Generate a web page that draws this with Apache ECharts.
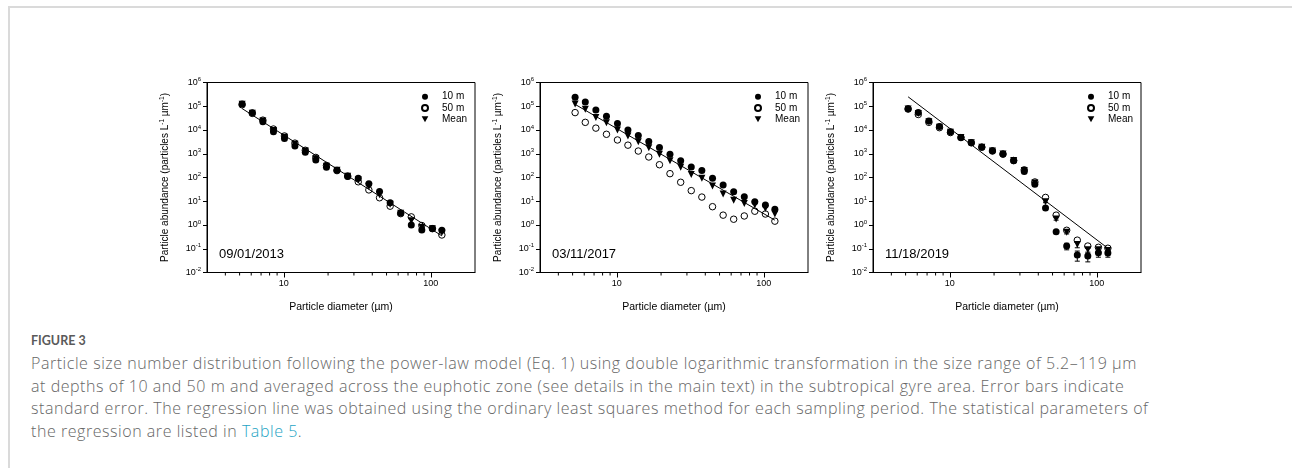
<!DOCTYPE html>
<html>
<head>
<meta charset="utf-8">
<script src="https://cdn.jsdelivr.net/npm/echarts@6/dist/echarts.min.js"></script>
<style>
body { margin: 0; background: #fff; width: 1292px; height: 468px; overflow: hidden; position: relative; }
#frame { position: absolute; left: 8px; top: 6px; right: -4px; bottom: -4px; border-top: 2px solid #dadada; border-left: 2px solid #dadada; }
#chart { position: absolute; left: 0; top: 0; width: 1292px; height: 320px; }
#caption { position: absolute; left: 31px; top: 332px; width: 1250px; }
#caption .fig { font-family: Lato, sans-serif; font-size: 12.5px; font-weight: bold; color: #5a5a5a; line-height: 18px; }
#caption .txt { font-family: "Open Sans", sans-serif; font-weight: 300; margin-top: 2px; font-size: 16px; letter-spacing: 0.55px; line-height: 22.5px; color: #666; white-space: nowrap; }
#caption .lnk { color: #1ea4c4; }
</style>
</head>
<body>
<div id="frame"></div>
<div id="chart"></div>
<div id="caption">
  <div class="fig">FIGURE 3</div>
  <div class="txt">Particle size number distribution following the power-law model (Eq. 1) using double logarithmic transformation in the size range of 5.2–119 µm<br>at depths of 10 and 50 m and averaged across the euphotic zone (see details in the main text) in the subtropical gyre area. Error bars indicate<br>standard error. The regression line was obtained using the ordinary least squares method for each sampling period. The statistical parameters of<br>the regression are listed in <span class="lnk">Table 5</span>.</div>
</div>
<script>
// particle diameter bins (um)
var diameter = [5.2, 6.1, 7.2, 8.5, 10.1, 11.9, 14.0, 16.5, 19.5, 23.0, 27.2, 32.1, 37.9, 44.8, 52.9, 62.4, 73.7, 86.9, 102.6, 119];
var minorTicks = [4, 5, 6, 7, 8, 9, 20, 30, 40, 50, 60, 70, 80, 90];
var dates = ['09/01/2013', '03/11/2017', '11/18/2019'];

// 09/01/2013
var m10_2013 = [1.25e5, 5.3e4, 2.2e4, 8.5e3, 4.4e3, 2.1e3, 1.15e3, 540, 270, 200, 110, 92, 54, 26, 8.7, 3.2, 1.0, 0.62, 0.72, 0.6];
var m50_2013 = [1.15e5, 5.0e4, 2.6e4, 1.1e4, 5.6e3, 2.8e3, 1.4e3, 700, 320, 195, 115, 66, 30, 14, 6.2, 3.0, 2.2, 0.95, 0.7, 0.38];
var mean_2013 = [1.2e5, 5.1e4, 2.4e4, 9.5e3, 5.0e3, 2.5e3, 1.3e3, 620, 300, 200, 112, 78, 42, 19, 7.5, 3.1, 1.5, 0.78, 0.7, 0.48];
var fit_2013 = [[5.2, 8.0e4], [119, 0.35]];

// 03/11/2017
var m10_2017 = [2.4e5, 1.5e5, 6.9e4, 3.8e4, 1.9e4, 1.0e4, 5.8e3, 3.3e3, 1.85e3, 950, 510, 280, 195, 94, 48, 25, 15.5, 9.5, 6.9, 4.6];
var m50_2017 = [5.4e4, 2.1e4, 1.2e4, 6.6e3, 3.8e3, 2.3e3, 1.3e3, 730, 345, 145, 63, 28, 15, 5.9, 2.6, 1.75, 2.4, 3.8, 2.9, 1.45];
var mean_2017 = [1.25e5, 7.4e4, 3.4e4, 2.0e4, 1.0e4, 5.6e3, 3.2e3, 1.8e3, 960, 510, 270, 135, 93, 44, 20, 11, 8.1, 7, 5, 2.9];
var fit_2017 = [[5.2, 1.2e5], [119, 1.6]];

// 11/18/2019
var m10_2019 = [7.9e4, 5.5e4, 2.4e4, 1.4e4, 8.5e3, 4.8e3, 2.9e3, 1.9e3, 1.35e3, 980, 510, 180, 52, 5.2, 0.52, 0.13, 0.055, 0.05, 0.068, 0.066];
var m50_2019 = [7.6e4, 4.5e4, 2.1e4, 1.25e4, 7.8e3, 4.8e3, 2.9e3, 1.9e3, 1.3e3, 960, 520, 210, 65, 14.5, 2.6, 0.6, 0.23, 0.13, 0.115, 0.105];
var mean_2019 = [7.7e4, 5.0e4, 2.25e4, 1.3e4, 8.1e3, 4.8e3, 2.9e3, 1.9e3, 1.3e3, 970, 515, 195, 58, 9.5, 1.8, 0.5, 0.15, 0.09, 0.09, 0.085];
var fit_2019 = [[5.2, 2.5e5], [119, 0.105]];
// standard errors (2019 only visible)
var se10_2019 = [4e3, 6e3, 3e3, 1.5e3, 1.0e3, 300, 200, 120, 80, 50, 30, 15, 5, 0.6, 0.05, 0.04, 0.025, 0.022, 0.024, 0.022];
var se50_2019 = [3e3, 5e3, 2e3, 1e3, 600, 300, 150, 100, 60, 40, 25, 15, 6, 1, 0.3, 0.08, 0.04, 0.025, 0.02, 0.02];
var seMean_2019 = [2.5e3, 4e3, 2e3, 1e3, 500, 200, 100, 80, 50, 30, 20, 10, 4, 0.8, 0.2, 0.08, 0.04, 0.025, 0.025, 0.02];

var panels = [
    {s10: m10_2013, s50: m50_2013, mean: mean_2013, fit: fit_2013},
    {s10: m10_2017, s50: m50_2017, mean: mean_2017, fit: fit_2017},
    {s10: m10_2019, s50: m50_2019, mean: mean_2019, fit: fit_2019,
     err: [[m50_2019, se50_2019], [m10_2019, se10_2019], [mean_2019, seMean_2019]]}
];

var FONT = 'Arial, "Liberation Sans", sans-serif';
var lefts = [207, 540, 873];
var W = 268, TOP = 82.5, H = 190;

function pairs(ys) {
    return diameter.map(function (d, i) { return [d, ys[i]]; });
}
function bars(ys, se) {
    return diameter.map(function (d, i) {
        return [d, ys[i], Math.max(ys[i] - se[i], 0.011), ys[i] + se[i]];
    });
}
function renderBar(params, api) {
    var x = api.value(0);
    var lo = api.coord([x, api.value(2)]);
    var hi = api.coord([x, api.value(3)]);
    var st = {stroke: '#000', lineWidth: 1};
    return {type: 'group', children: [
        {type: 'line', shape: {x1: lo[0], y1: lo[1], x2: hi[0], y2: hi[1]}, style: st},
        {type: 'line', shape: {x1: lo[0] - 2.5, y1: lo[1], x2: lo[0] + 2.5, y2: lo[1]}, style: st},
        {type: 'line', shape: {x1: hi[0] - 2.5, y1: hi[1], x2: hi[0] + 2.5, y2: hi[1]}, style: st}
    ]};
}
function renderMinor(params, api) {
    var p = api.coord([api.value(0), 0.01]);
    return {type: 'line', shape: {x1: p[0], y1: p[1], x2: p[0], y2: p[1] + 3},
            style: {stroke: '#000', lineWidth: 1}};
}

var grid = [], xAxis = [], yAxis = [], series = [], legend = [], title = [];
panels.forEach(function (p, i) {
    grid.push({left: lefts[i], top: TOP, width: W, height: H, show: true,
               borderColor: '#000', borderWidth: 1, backgroundColor: 'transparent'});
    xAxis.push({
        type: 'log', gridIndex: i, min: 3, max: 200,
        name: 'Particle diameter (µm)', nameLocation: 'middle', nameGap: 29,
        nameTextStyle: {fontFamily: FONT, fontSize: 10.5, color: '#000'},
        axisLine: {show: true, lineStyle: {color: '#000', width: 1}},
        axisTick: {show: true, length: 5, lineStyle: {color: '#000'}},
        axisLabel: {fontFamily: FONT, fontSize: 9, color: '#000', margin: 7,
                    showMinLabel: false, showMaxLabel: false},
        splitLine: {show: false}
    });
    yAxis.push({
        type: 'log', gridIndex: i, min: 0.01, max: 1e6,
        name: '{a|Particle abundance (particles L}{s|-1}{a| µm}{s|-1}{a|)}',
        nameLocation: 'middle', nameGap: 35, nameRotate: 90,
        nameTextStyle: {rich: {
            a: {fontFamily: FONT, fontSize: 10, color: '#000', lineHeight: 13},
            s: {fontFamily: FONT, fontSize: 6.5, color: '#000', lineHeight: 6, verticalAlign: 'top'}
        }},
        axisLine: {show: true, lineStyle: {color: '#000', width: 1}},
        axisTick: {show: true, length: 4, lineStyle: {color: '#000'}},
        axisLabel: {
            margin: 6,
            formatter: function (v) { return '{b|10}{s|' + Math.round(Math.log10(v)) + '}'; },
            rich: {
                b: {fontFamily: FONT, fontSize: 9, color: '#000', lineHeight: 12},
                s: {fontFamily: FONT, fontSize: 6, color: '#000', lineHeight: 6, verticalAlign: 'top'}
            }
        },
        splitLine: {show: false}
    });
    legend.push({
        data: ['10 m', '50 m', 'Mean'], orient: 'vertical',
        left: lefts[i] + W - 59, top: 86, itemWidth: 24, itemHeight: 6, itemGap: 0,
        textStyle: {fontFamily: FONT, fontSize: 10, color: '#000', lineHeight: 11.3},
        selectedMode: false
    });
    title.push({text: dates[i], left: lefts[i] + 12, top: 248, padding: 0,
                textStyle: {fontFamily: FONT, fontSize: 13, fontWeight: 'normal', color: '#000'}});

    series.push({type: 'custom', xAxisIndex: i, yAxisIndex: i, silent: true,
                 renderItem: renderMinor, data: minorTicks.map(function (v) { return [v, 0.01]; })});
    if (p.err) {
        p.err.forEach(function (e) {
            series.push({type: 'custom', xAxisIndex: i, yAxisIndex: i, silent: true,
                         renderItem: renderBar, encode: {x: 0, y: 1}, data: bars(e[0], e[1])});
        });
    }
    series.push({name: '50 m', type: 'scatter', xAxisIndex: i, yAxisIndex: i, symbol: 'circle', symbolSize: 6.5,
                 itemStyle: {color: '#fff', borderColor: '#000', borderWidth: 1, opacity: 1}, data: pairs(p.s50)});
    series.push({name: '10 m', type: 'scatter', xAxisIndex: i, yAxisIndex: i, symbol: 'circle', symbolSize: 7,
                 itemStyle: {color: '#000', opacity: 1}, data: pairs(p.s10)});
    series.push({name: 'Mean', type: 'scatter', xAxisIndex: i, yAxisIndex: i, symbol: 'path://M0,0L10,0L5,9Z', symbolSize: 7,
                 itemStyle: {color: '#000', opacity: 1}, data: pairs(p.mean)});
    series.push({name: 'fit', type: 'line', xAxisIndex: i, yAxisIndex: i, showSymbol: false, symbol: 'none',
                 lineStyle: {color: '#000', width: 1}, data: p.fit});
});

var chart = echarts.init(document.getElementById('chart'), null, {renderer: 'canvas'});
chart.setOption({
    animation: false,
    backgroundColor: 'transparent',
    title: title,
    legend: legend,
    grid: grid,
    xAxis: xAxis,
    yAxis: yAxis,
    series: series
});
</script>
</body>
</html>
